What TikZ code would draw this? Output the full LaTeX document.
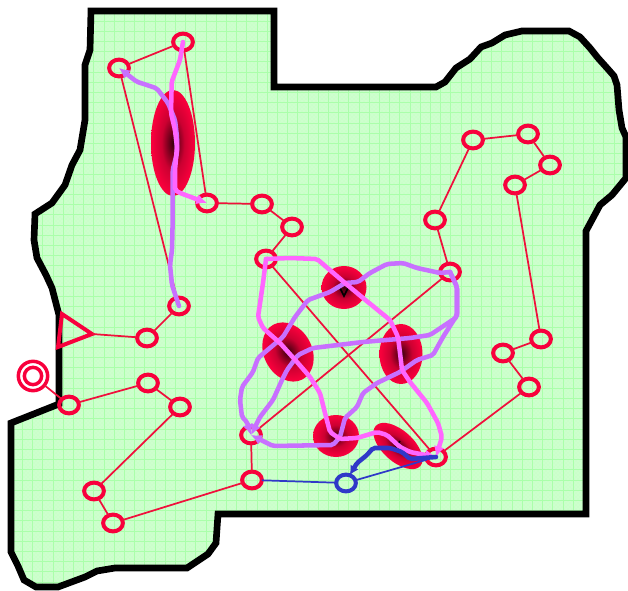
\documentclass[tikz,border=0pt]{standalone}
\usetikzlibrary{arrows.meta,patterns,shapes.geometric}
\definecolor{nred}{RGB}{248,0,60}
\definecolor{edgered}{RGB}{240,16,60}
\definecolor{purp}{RGB}{200,112,255}
\definecolor{magn}{RGB}{255,102,255}
\definecolor{nblue}{RGB}{48,56,200}
\definecolor{area}{RGB}{202,255,202}
\definecolor{dotc}{RGB}{218,255,218}
\definecolor{gridc}{RGB}{170,255,170}
\pgfdeclareradialshading{blobshade}{\pgfpoint{0bp}{0bp}}{%
 color(0bp)=(black!78!nred);
 color(5bp)=(black!55!nred);
 color(13bp)=(black!18!nred);
 color(24bp)=(nred);
 color(50bp)=(nred)}
\tikzset{
  x=0.75pt,y=-0.75pt,
  st/.style={draw=nred,line width=3pt,ellipse,inner sep=0pt,minimum width=14.8pt,minimum height=12.6pt,outer sep=0pt},
  stb/.style={st,draw=nblue},
  edgeline/.style={draw=edgered,line width=1.3pt},
  edgeblue/.style={draw=nblue,line width=1.3pt},
  walk/.style={line width=3.4pt,rounded corners=1.5pt,line cap=round,-{Latex[length=8pt,width=8pt]}},
  walkp/.style={walk,draw=purp},
  walkm/.style={walk,draw=magn},
  walkb/.style={walk,draw=nblue,-{Latex[length=7pt,width=7pt]}},
}
\def\blob#1#2#3#4#5{\begin{scope}[transform canvas={shift={(#1,#2)},rotate=#5}]\shade[shading=blobshade] (0,0) ellipse [x radius=#3*0.75pt,y radius=#4*0.75pt];\end{scope}}
\begin{document}
\begin{tikzpicture}
\useasboundingbox (0,0) rectangle (628,591);
\def\outline{(91,11) -- (274,11) -- (274,87) -- (436,87) -- (445,82) -- (456,68) -- (470,59) -- (481,47) -- (492,43) -- (505,35) -- (522,31) -- (569,31) -- (580,37) -- (590,48) -- (598,58) -- (607,68) -- (614,76) -- (617,85) -- (619,110) -- (622,128) -- (626,137) -- (626,178) -- (612,195) -- (600,205) -- (586,231) -- (586,514) -- (218,514) -- (216,543) -- (208,554) -- (187,568) -- (115,568) -- (97,571) -- (85,577) -- (58,587) -- (36,587) -- (24,580) -- (18,566) -- (11,552) -- (11,423) -- (59,404) -- (59,315) -- (52,288) -- (46,275) -- (37,258) -- (34,240) -- (35,214) -- (52,203) -- (65,185) -- (72,165) -- (80,150) -- (85,120) -- (85,65) -- (90,50) -- cycle}
\fill[area] \outline;
\begin{scope}
\clip \outline;
\fill[pattern=crosshatch dots,pattern color=dotc] (0,0) rectangle (628,591);
\foreach \i in {0,...,61} {
  \draw[gridc,line width=0.7pt] (\i*10.2+2.1,0) -- (\i*10.2+2.1,591);
}
\foreach \i in {0,...,58} {
  \draw[gridc,line width=0.7pt] (0,\i*10.2+0.7) -- (628,\i*10.2+0.7);
}
\end{scope}
\draw[line width=5pt,miter limit=4] \outline;
% blobs
\blob{173}{143}{22}{53}{0}
\blob{344}{287.5}{22.5}{21.5}{0}
\blob{288}{352}{24}{31}{28}
\blob{401}{354}{21.5}{30}{0}
\blob{336}{436}{23}{21}{0}
\blob{398}{446}{15.5}{30}{48}
% nodes
\node[st] (n1) at (183,42) {};
\node[st] (n2) at (119,68) {};
\node[st] (n3) at (207,203) {};
\node[st] (n4) at (262,204) {};
\node[st] (n5) at (292,227) {};
\node[st] (n6) at (266,259) {};
\node[st] (n7) at (450,272) {};
\node[st] (n8) at (435,220) {};
\node[st] (n9) at (473,140) {};
\node[st] (n10) at (528,134) {};
\node[st] (n11) at (550,165) {};
\node[st] (n12) at (515,185) {};
\node[st] (n13) at (541,339) {};
\node[st] (n14) at (503,353) {};
\node[st] (n15) at (529,387) {};
\node[st] (n16) at (436,457) {};
\node[st] (n17) at (251,435) {};
\node[st] (n18) at (252,480) {};
\node[st] (n19) at (113,523) {};
\node[st] (n20) at (94,491) {};
\node[st] (n21) at (180,407) {};
\node[st] (n22) at (148,383) {};
\node[st] (n23) at (69,405) {};
\node[st] (n24) at (147,338) {};
\node[st] (n25) at (179,306) {};
\node[stb] (n26) at (346,483) {};
\node[circle,draw=nred,line width=2.6pt,inner sep=0pt,minimum size=22pt,outer sep=0pt] (init) at (33,376) {};
\node[circle,draw=nred,line width=2.6pt,inner sep=0pt,minimum size=13pt] (inner) at (init) {};
\coordinate (tip) at (92,334);
\coordinate (ta) at (62,314);
\coordinate (tb) at (58,347);
\draw[draw=nred,line width=3pt,line join=miter] (ta) -- (tip) -- (tb) -- cycle;
% edges
\draw[edgeline] (init) -- (n23);
\draw[edgeline] (n23) -- (n22);
\draw[edgeline] (n22) -- (n21);
\draw[edgeline] (n21) -- (n20);
\draw[edgeline] (n20) -- (n19);
\draw[edgeline] (n19) -- (n18);
\draw[edgeline] (n18) -- (n17);
\draw[edgeline] (n17) -- (n7);
\draw[edgeline] (n7) -- (n8);
\draw[edgeline] (n8) -- (n9);
\draw[edgeline] (n9) -- (n10);
\draw[edgeline] (n10) -- (n11);
\draw[edgeline] (n11) -- (n12);
\draw[edgeline] (n12) -- (n13);
\draw[edgeline] (n13) -- (n14);
\draw[edgeline] (n14) -- (n15);
\draw[edgeline] (n15) -- (n16);
\draw[edgeline] (n16) -- (n6);
\draw[edgeline] (n6) -- (n5);
\draw[edgeline] (n5) -- (n4);
\draw[edgeline] (n4) -- (n3);
\draw[edgeline] (n3) -- (n1);
\draw[edgeline] (n1) -- (n2);
\draw[edgeline] (n2) -- (n25);
\draw[edgeline] (n25) -- (n24);
\draw[edgeline] (n24) -- (tip);
\draw[edgeblue] (n18) -- (n26);
\draw[edgeblue] (n26) -- (n16);
% small black marks
\draw[black,line width=1.2pt] (340,288) -- (344,296) -- (348,288);
\draw[black,line width=1.2pt] (395,442) -- (400,448) (400,441) -- (396,447);
% walks
\draw[walkp] (n25.center) -- (172,285) -- (170,265) -- (172,250) -- (172.7,220) -- (172.7,170) -- (177,153) -- (177,137) -- (175,120) -- (168,103) -- (156.7,88.3) -- (136.7,81.7) -- (n2.center);
\draw[walkm] (n1.center) -- (180,60) -- (171.7,81.7) -- (171,113) -- (175,130) -- (177,147) -- (175,170) -- (175,190) -- (180,193) -- (n3.center);
\draw[walkp] (n7.center) -- (440,273) -- (417,268) -- (403,263) -- (387,264) -- (370,273) -- (358,282) -- (345,283) -- (330,292) -- (308,300) -- (295,317) -- (283,337) -- (258,358) -- (253,372) -- (242,387) -- (240,400) -- (242,417) -- (247,422) -- (n17.center);
\draw[walkp] (n7.center) -- (457,287) -- (457,315) -- (443,337) -- (433,355) -- (417,360) -- (400,372) -- (377,383) -- (363,393) -- (357,407) -- (345,418) -- (340,437) -- (333,445) -- (273,446) -- (n17.center);
\draw[walkp] (n7.center) -- (457,287) -- (457,317) -- (430,335) -- (410,338) -- (363,342) -- (313,348) -- (298,355) -- (287,370) -- (282,380) -- (273,400) -- (260,417) -- (n17.center);
\draw[walkm] (n6.center) -- (290,258) -- (317,259) -- (345,283) -- (363,298) -- (390,320) -- (398,337) -- (400,353) -- (402,370) -- (410,382) -- (427,403) -- (438,423) -- (442,437) -- (n16.center);
\draw[walkm] (n6.center) -- (263,283) -- (258,317) -- (263,328) -- (280,343) -- (297,362) -- (310,377) -- (320,393) -- (325,413) -- (330,432) -- (340,439) -- (357,438) -- (377,432) -- (387,435) -- (400,447) -- (410,452) -- (n16.center);
\draw[walkb] (n16.center) -- (410,459) -- (402,452) -- (390,448) -- (373,448) -- (367,455) -- (357,463) -- (n26.65);
\end{tikzpicture}
\end{document}
